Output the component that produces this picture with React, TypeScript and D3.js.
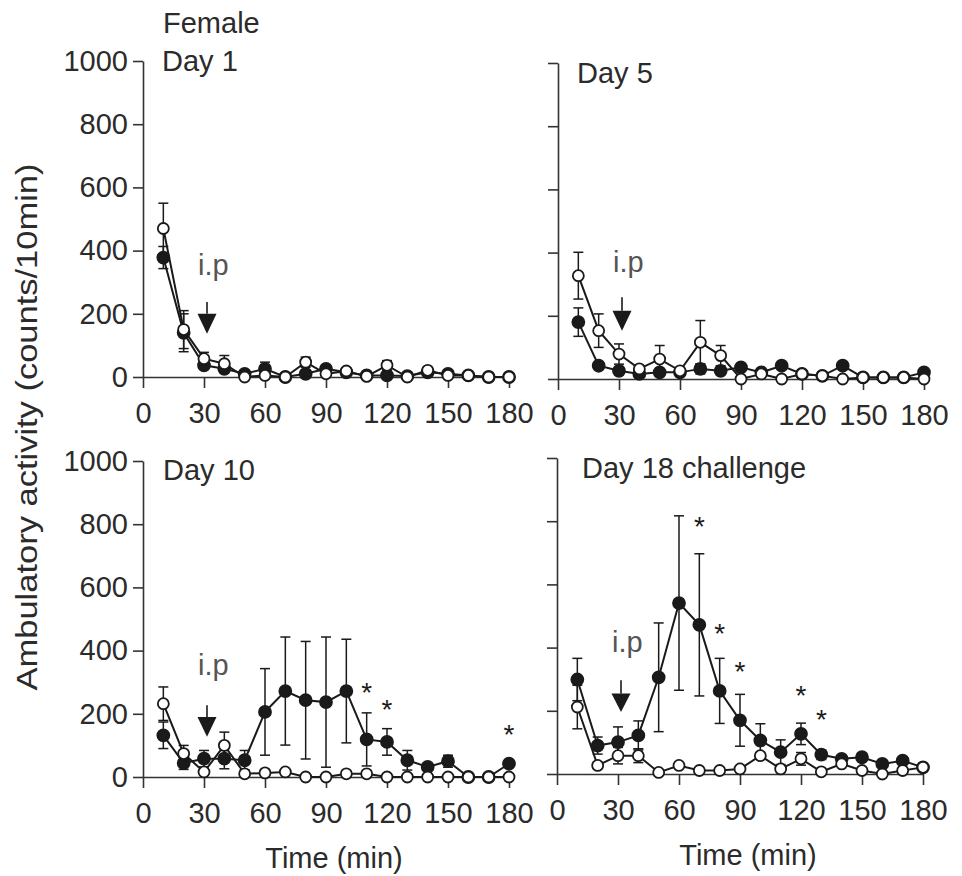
import React, { useEffect, useRef } from 'react';
import * as d3 from 'd3';

// sampling times (min)
const times = [10, 20, 30, 40, 50, 60, 70, 80, 90, 100, 110, 120, 130, 140, 150, 160, 170, 180];
const xTicks = [0, 30, 60, 90, 120, 150, 180];
const yTicks = [0, 200, 400, 600, 800, 1000];

// Day 1
const d1Open = [470, 150, 58, 42, 0, 5, 0, 47, 10, 19, 2, 37, 0, 21, 5, 5, 0, 0];
const d1OpenErr = [80, 60, 20, 26, 5, 10, 5, 16, 8, 10, 5, 15, 5, 10, 5, 5, 3, 3];
const d1Filled = [378, 140, 37, 26, 10, 26, 0, 10, 26, 15, 5, 5, 3, 15, 10, 5, 0, 0];
const d1FilledErr = [35, 60, 10, 10, 5, 21, 5, 10, 10, 5, 5, 10, 3, 5, 5, 5, 3, 3];

// Day 5
const d5Open = [327, 153, 79, 32, 63, 26, 116, 74, 0, 16, 0, 16, 10, 0, 5, 5, 5, 0];
const d5OpenErr = [74, 53, 32, 10, 43, 10, 69, 32, 5, 5, 5, 5, 5, 5, 5, 5, 5, 5];
const d5Filled = [180, 42, 26, 16, 21, 21, 32, 26, 37, 21, 42, 16, 10, 42, 5, 5, 5, 21];
const d5FilledErr = [45, 8, 5, 5, 5, 5, 16, 8, 8, 5, 8, 5, 3, 8, 3, 3, 3, 5];

// Day 10
const d10Open = [232, 74, 16, 100, 10, 13, 16, 0, 0, 10, 10, 0, 0, 0, 0, 0, 0, 0];
const d10OpenErr = [53, 26, 10, 42, 5, 5, 5, 5, 10, 5, 5, 10, 5, 10, 10, 5, 5, 5];
const d10Filled = [132, 44, 58, 58, 53, 206, 272, 243, 237, 272, 119, 111, 53, 32, 50, 0, 0, 42];
const d10FilledErr = [42, 20, 26, 32, 31, 137, 171, 186, 206, 164, 84, 42, 31, 10, 19, 5, 5, 10];
const d10StarTimes = [110, 120, 180];
const d10StarValues = [274, 222, 142];

// Day 18 challenge
const d18Open = [212, 27, 58, 58, 5, 27, 11, 11, 16, 58, 16, 48, 7, 32, 11, 0, 11, 21];
const d18OpenErr = [69, 10, 26, 22, 5, 5, 5, 5, 5, 10, 10, 20, 5, 5, 5, 5, 5, 5];
const d18Filled = [299, 90, 101, 122, 306, 541, 472, 263, 170, 106, 69, 127, 61, 48, 53, 32, 42, 21];
const d18FilledErr = [67, 27, 48, 46, 172, 276, 225, 103, 82, 53, 39, 34, 15, 10, 10, 8, 8, 8];
const d18StarTimes = [70, 80, 90, 120, 130];
const d18StarValues = [791, 451, 331, 255, 180];

// i.p arrow annotations (value units): text baseline, shaft top, head top, tip
const ipD1 = [322, 237, 200, 137];
const ipD5 = [338, 259, 216, 153];
const ipD10 = [322, 227, 190, 127];
const ipD18 = [387, 297, 255, 196];

const panels = [
  { title: 'Day 1', open: d1Open, openErr: d1OpenErr, filled: d1Filled, filledErr: d1FilledErr, starT: [], starV: [], ip: ipD1,
    left: 143, top: 61, titleDx: 19, titleDy: 10, yLabels: true, xTitle: false },
  { title: 'Day 5', open: d5Open, openErr: d5OpenErr, filled: d5Filled, filledErr: d5FilledErr, starT: [], starV: [], ip: ipD5,
    left: 558, top: 63, titleDx: 19, titleDy: 20, yLabels: false, xTitle: false },
  { title: 'Day 10', open: d10Open, openErr: d10OpenErr, filled: d10Filled, filledErr: d10FilledErr, starT: d10StarTimes, starV: d10StarValues, ip: ipD10,
    left: 143, top: 461, titleDx: 20, titleDy: 19, yLabels: true, xTitle: true },
  { title: 'Day 18 challenge', open: d18Open, openErr: d18OpenErr, filled: d18Filled, filledErr: d18FilledErr, starT: d18StarTimes, starV: d18StarValues, ip: ipD18,
    left: 557, top: 458, titleDx: 25, titleDy: 20, yLabels: false, xTitle: true },
];

const FONT = "'Liberation Sans', Arial, sans-serif";
const INK = '#1a1a1a';
const TXT = '#2b2b2b';

export default function App() {
  const ref = useRef<SVGSVGElement>(null);

  useEffect(() => {
    const svg = d3.select(ref.current);
    svg.selectAll('*').remove();
    const W = 366;
    const H = 316;
    const x = d3.scaleLinear().domain([0, 180]).range([0, W]);
    const y = d3.scaleLinear().domain([0, 1000]).range([H, 0]);

    svg.append('text')
      .attr('x', 163).attr('y', 33)
      .attr('font-family', FONT).attr('font-size', 29).attr('fill', TXT)
      .text('Female');

    svg.append('text')
      .attr('transform', 'translate(37,427) rotate(-90)')
      .attr('text-anchor', 'middle')
      .attr('textLength', 527).attr('lengthAdjust', 'spacingAndGlyphs')
      .attr('font-family', FONT).attr('font-size', 29).attr('fill', TXT)
      .text('Ambulatory activity (counts/10min)');

    panels.forEach((p) => {
      const g = svg.append('g').attr('transform', `translate(${p.left},${p.top})`);

      const yAxis = g.append('g')
        .call(d3.axisLeft(y).tickValues(yTicks).tickSize(10).tickSizeOuter(0).tickPadding(5)
          .tickFormat((d) => (p.yLabels ? String(d) : '')));
      const xAxis = g.append('g')
        .attr('transform', `translate(0,${H})`)
        .call(d3.axisBottom(x).tickValues(xTicks).tickSize(11).tickSizeOuter(0).tickPadding(14));
      [yAxis, xAxis].forEach((a) => {
        a.selectAll('path, line').attr('stroke', '#333').attr('stroke-width', 1.6);
        a.selectAll('text').attr('font-family', FONT).attr('font-size', 29).attr('fill', TXT);
      });

      g.append('text')
        .attr('x', p.titleDx).attr('y', p.titleDy)
        .attr('font-family', FONT).attr('font-size', 29).attr('fill', TXT)
        .text(p.title);

      if (p.xTitle) {
        g.append('text')
          .attr('x', 191).attr('y', H + 91)
          .attr('text-anchor', 'middle')
          .attr('font-family', FONT).attr('font-size', 29).attr('fill', TXT)
          .text('Time (min)');
      }

      // i.p marker
      const ax = x(30);
      g.append('text')
        .attr('x', ax - 6).attr('y', y(p.ip[0]))
        .attr('font-family', FONT).attr('font-size', 29).attr('fill', '#555')
        .text('i.p');
      g.append('line')
        .attr('x1', ax + 3).attr('x2', ax + 3)
        .attr('y1', y(p.ip[1])).attr('y2', y(p.ip[2]))
        .attr('stroke', INK).attr('stroke-width', 1.6);
      g.append('path')
        .attr('d', `M${ax - 6.5},${y(p.ip[2])} L${ax + 12.5},${y(p.ip[2])} L${ax + 3},${y(p.ip[3])} Z`)
        .attr('fill', INK);

      const series = [
        { vals: p.filled, err: p.filledErr, fill: INK, r: 6 },
        { vals: p.open, err: p.openErr, fill: '#fff', r: 5.5 },
      ];

      const line = d3.line<number>().x((_, i) => x(times[i])).y((d) => y(d));
      series.forEach((s) => {
        g.append('path')
          .attr('d', line(s.vals))
          .attr('fill', 'none').attr('stroke', INK).attr('stroke-width', 2);
      });

      series.forEach((s) => {
        const eb = g.append('g').attr('stroke', INK).attr('stroke-width', 1.5);
        s.vals.forEach((v, i) => {
          const cx = x(times[i]);
          const hi = y(v + s.err[i]);
          const lo = y(Math.max(0, v - s.err[i]));
          eb.append('line').attr('x1', cx).attr('x2', cx).attr('y1', hi).attr('y2', lo);
          eb.append('line').attr('x1', cx - 5).attr('x2', cx + 5).attr('y1', hi).attr('y2', hi);
          eb.append('line').attr('x1', cx - 5).attr('x2', cx + 5).attr('y1', lo).attr('y2', lo);
        });
        g.append('g').selectAll('circle').data(s.vals).enter().append('circle')
          .attr('cx', (_, i) => x(times[i]))
          .attr('cy', (d) => y(d))
          .attr('r', s.r)
          .attr('fill', s.fill)
          .attr('stroke', INK).attr('stroke-width', 1.8);
      });

      p.starT.forEach((t, i) => {
        g.append('text')
          .attr('x', x(t)).attr('y', y(p.starV[i]) + 12)
          .attr('text-anchor', 'middle')
          .attr('font-family', FONT).attr('font-size', 28).attr('fill', INK)
          .text('*');
      });
    });
  }, []);

  return (
    <div>
      <svg ref={ref} width={962} height={876} style={{ position: 'absolute', left: 0, top: 0, display: 'block' }} />
    </div>
  );
}
